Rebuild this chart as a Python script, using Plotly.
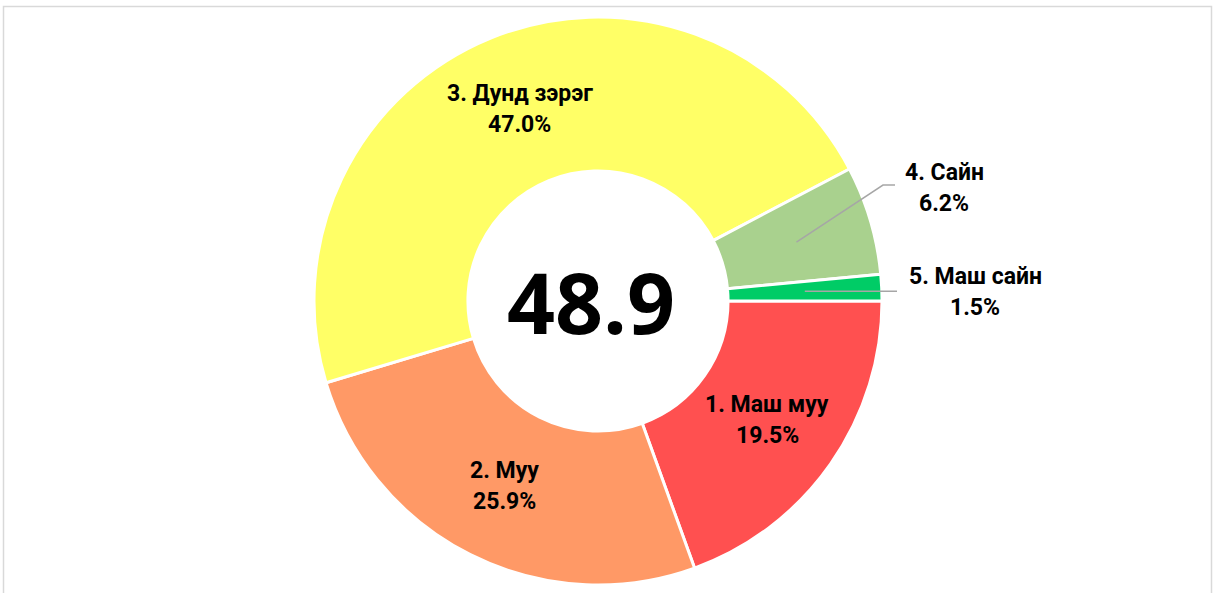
import math
import plotly.graph_objects as go

# ---- data ----
categories = ["1. Маш муу", "2. Муу", "3. Дунд зэрэг", "4. Сайн", "5. Маш сайн"]
values = [19.5, 25.9, 47.0, 6.2, 1.5]
colors = ["#FF5050", "#FF9966", "#FFFF66", "#A9D18E", "#00CC66"]
center_value = "48.9"

# ---- layout constants (pixels) ----
W, H = 1214, 593
CX, CY, R = 598, 301, 284
HOLE = 0.458
FONT = "Roboto"
LBL_SIZE = 23
LINE_GAP = 31
# outside labels: index -> (elbow_x, elbow_y, end_x, text_center_x) ; None elbow means straight
outside = {3: (883, 185, 895, 944), 4: (None, None, 897, 975)}


def px(x):
    return x / W


def py(y):
    return 1 - y / H


fig = go.Figure()
fig.add_trace(go.Pie(
    labels=categories,
    values=values,
    sort=False,
    direction="clockwise",
    rotation=90,
    hole=HOLE,
    marker=dict(colors=colors, line=dict(color="white", width=3)),
    textinfo="none",
    hoverinfo="label+value",
    domain=dict(x=[px(CX - R), px(CX + R)], y=[py(CY + R), py(CY - R)]),
    showlegend=False,
))

total = sum(values)
r_mid = (R + R * HOLE) / 2
cum = 0.0
annotations = []
shapes = []
for i, (cat, v) in enumerate(zip(categories, values)):
    a0 = cum / total * 2 * math.pi
    cum += v
    a1 = cum / total * 2 * math.pi
    am = (a0 + a1) / 2
    mx = CX + r_mid * math.cos(am)
    my = CY + r_mid * math.sin(am)
    pct = f"{v:.1f}%"
    if i in outside:
        ex, ey, endx, tcx = outside[i]
        if ex is None:
            path = f"M {px(mx)},{py(my)} L {px(endx)},{py(my)}"
            cy_lbl = my + 1
        else:
            path = f"M {px(mx)},{py(my)} L {px(ex)},{py(ey)} L {px(endx)},{py(ey)}"
            cy_lbl = ey + 3
        shapes.append(dict(type="path", path=path, xref="paper", yref="paper",
                           line=dict(color="#A6A6A6", width=1.5)))
        lx = tcx
    else:
        lx, cy_lbl = mx, my
    for j, t in enumerate([cat, pct]):
        yy = cy_lbl + (j - 0.5) * LINE_GAP
        annotations.append(dict(
            x=px(lx), y=py(yy), xref="paper", yref="paper",
            text=t, showarrow=False, xanchor="center", yanchor="middle",
            font=dict(family=FONT, size=LBL_SIZE, color="black", weight="bold"),
        ))

annotations.append(dict(
    x=px(591), y=py(301), xref="paper", yref="paper", text=center_value,
    showarrow=False, xanchor="center", yanchor="middle",
    font=dict(family="Open Sans", size=84, color="black", weight="bold"),
))

shapes.append(dict(type="rect", xref="paper", yref="paper",
                   x0=px(3.5), x1=px(1211.5), y0=-0.05, y1=py(6.5),
                   line=dict(color="#D9D9D9", width=1.5), fillcolor="rgba(0,0,0,0)"))

fig.update_layout(
    width=W, height=H,
    margin=dict(l=0, r=0, t=0, b=0),
    paper_bgcolor="white",
    plot_bgcolor="white",
    annotations=annotations,
    shapes=shapes,
    showlegend=False,
)

fig.write_html("out.html", config={"displayModeBar": False},
               post_script="document.body.style.margin='0';")
